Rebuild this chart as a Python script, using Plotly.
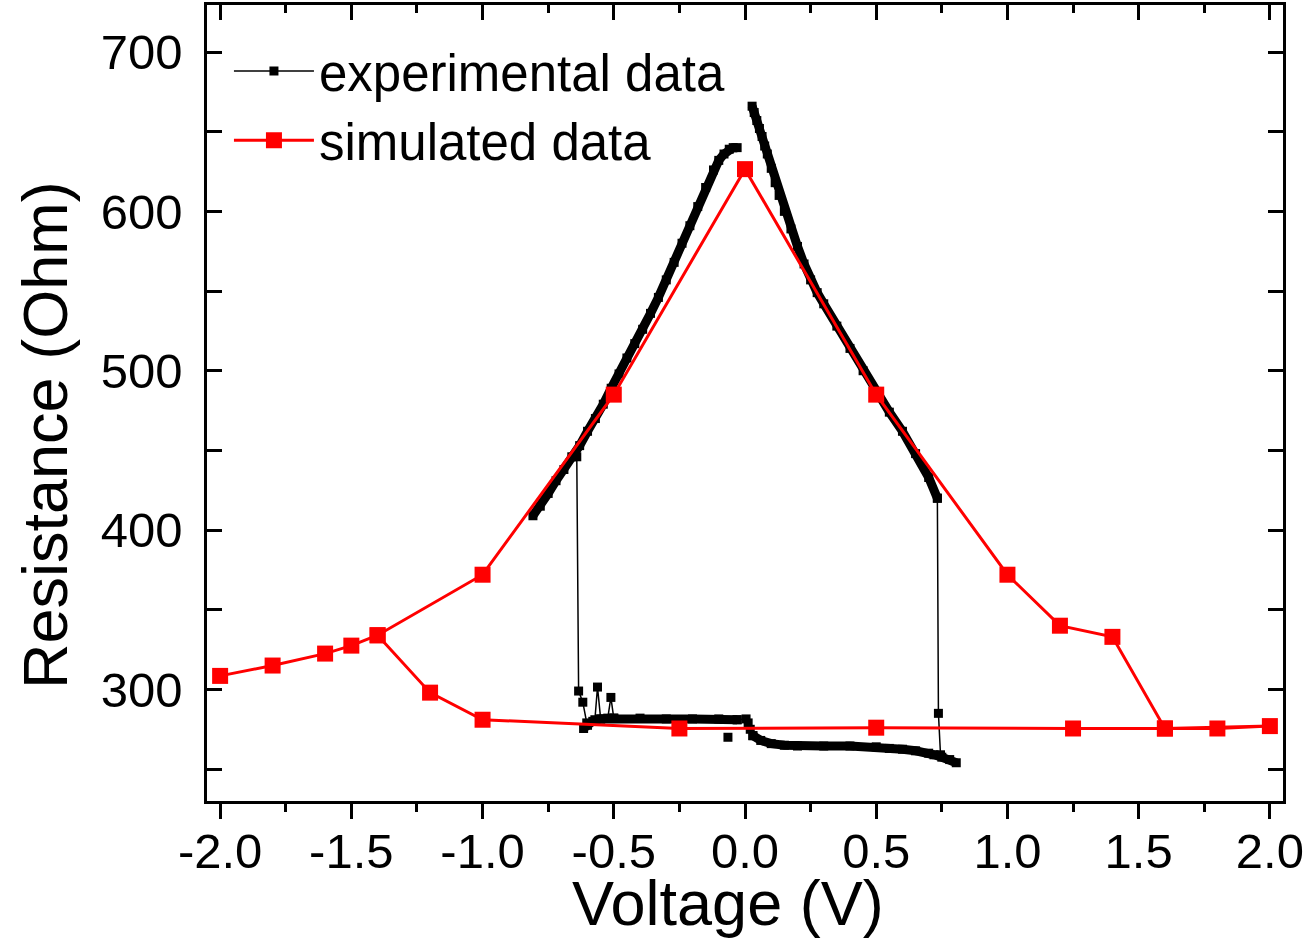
import plotly.graph_objects as go

# ---------------- data ----------------
# simulated data: upper sweep and lower return branch
sim_V = [-2.0, -1.8, -1.6, -1.5, -1.4, -1.0, -0.5, 0.0, 0.5, 1.0, 1.2, 1.4, 1.6, 1.8, 2.0]
sim_R = [308.5, 315, 322.5, 327.5, 334, 372, 485, 626.5, 485, 372, 340, 333, 275.5, 275.5, 277]
sim_low_V = [1.6, 1.25, 0.5, -0.25, -1.0, -1.2, -1.4]
sim_low_R = [275.5, 275.5, 276, 275.5, 281, 298, 334]

# experimental data, branch by branch (sweep order)
exp_rh_V = [0.027, 0.035, 0.045, 0.055, 0.065, 0.075, 0.085, 0.1, 0.115, 0.13, 0.15, 0.175,
            0.2, 0.225, 0.25, 0.275, 0.3, 0.35, 0.4, 0.45, 0.5, 0.55, 0.6, 0.65, 0.7, 0.733]
exp_rh_R = [666, 662, 657, 652, 647, 641, 636, 627, 618, 610, 600, 589,
            578, 567, 557, 549, 542, 528, 514, 500, 487, 474, 462, 448, 433, 420]

exp_jr_V = [0.733, 0.737, 0.745]
exp_jr_R = [420, 285, 259]

exp_lr_V = [0.805, 0.78, 0.75, 0.72, 0.7, 0.65, 0.6, 0.55, 0.5, 0.4, 0.3, 0.2, 0.15, 0.1, 0.06, 0.03]
exp_lr_R = [254, 256, 257.5, 259, 260, 261.5, 262.5, 263, 264, 264.5, 264.5, 264.5, 265, 266, 268, 271]

exp_z_V = [0.03, 0.02, 0.012, 0.004, -0.03]
exp_z_R = [271, 275, 279, 281.5, 281]

exp_out_V = [-0.065]
exp_out_R = [270]

exp_ll_V = [-0.03, -0.1, -0.2, -0.3, -0.4, -0.5, -0.55, -0.58, -0.6, -0.615]
exp_ll_R = [281, 281.5, 281.5, 281.5, 282, 282, 281.5, 280, 277.5, 275.5]

exp_n_V = [-0.5, -0.511, -0.523, -0.55, -0.562, -0.572, -0.603, -0.618, -0.634, -0.641]
exp_n_R = [282, 295, 282, 281.5, 301.5, 281, 279, 292, 299, 446]

exp_lh_V = [-0.808, -0.78, -0.75, -0.72, -0.69, -0.66, -0.63, -0.6, -0.57, -0.54, -0.51,
            -0.48, -0.45, -0.42, -0.39, -0.36, -0.33, -0.3, -0.27, -0.24, -0.21, -0.18,
            -0.15, -0.12, -0.1, -0.08, -0.06, -0.045, -0.03]
exp_lh_R = [409, 415, 423, 431, 438, 446, 453, 462, 470, 479, 489,
            498, 508, 517, 526, 536, 546, 557, 568, 580, 591, 603,
            615, 626, 632, 636, 639, 640, 640]

x_ticks = [-2.0, -1.5, -1.0, -0.5, 0.0, 0.5, 1.0, 1.5, 2.0]
y_ticks = [300, 400, 500, 600, 700]

FONT = "Liberation Sans, Arial, sans-serif"
BLACK = "#000000"
RED = "#ff0000"

fig = go.Figure()

# thick bands (dense measured points)
for vx, ry in [(exp_rh_V, exp_rh_R), (exp_lr_V, exp_lr_R), (exp_ll_V, exp_ll_R), (exp_lh_V, exp_lh_R)]:
    fig.add_trace(go.Scatter(x=vx, y=ry, mode="lines+markers",
                             line=dict(color=BLACK, width=9),
                             marker=dict(symbol="square", size=9, color=BLACK),
                             showlegend=False, legendgroup="exp", hoverinfo="skip"))

# thin connecting segments (jumps, noisy points)
fig.add_trace(go.Scatter(x=exp_jr_V, y=exp_jr_R, mode="lines+markers", name="experimental data",
                         line=dict(color=BLACK, width=1.5),
                         marker=dict(symbol="square", size=9, color=BLACK),
                         legendgroup="exp", legendrank=1, showlegend=True))
for vx, ry in [(exp_z_V, exp_z_R), (exp_n_V, exp_n_R)]:
    fig.add_trace(go.Scatter(x=vx, y=ry, mode="lines+markers",
                             line=dict(color=BLACK, width=1.5),
                             marker=dict(symbol="square", size=9, color=BLACK),
                             showlegend=False, legendgroup="exp"))
fig.add_trace(go.Scatter(x=exp_out_V, y=exp_out_R, mode="markers",
                         marker=dict(symbol="square", size=9, color=BLACK),
                         showlegend=False, legendgroup="exp"))

# simulated
fig.add_trace(go.Scatter(x=sim_V + sim_low_V, y=sim_R + sim_low_R, mode="lines+markers",
                         name="simulated data",
                         line=dict(color=RED, width=3),
                         marker=dict(symbol="square", size=16, color=RED),
                         legendrank=2))

# invisible trace to carry the top axis
fig.add_trace(go.Scatter(x=[x_ticks[0]], y=[y_ticks[0]], xaxis="x2", mode="markers",
                         marker=dict(opacity=0), showlegend=False, hoverinfo="skip"))

axis_common = dict(showgrid=False, zeroline=False, showline=True, linecolor=BLACK, linewidth=2.5,
                   tickcolor=BLACK, tickwidth=2.5)

fig.update_layout(
    width=1311, height=939, autosize=False,
    margin=dict(l=207, r=28, t=5, b=138),
    paper_bgcolor="white", plot_bgcolor="white",
    font=dict(family=FONT, color=BLACK, size=49),
    showlegend=True,
    legend=dict(x=0.0204, y=0.967, xanchor="left", yanchor="top", bgcolor="rgba(0,0,0,0)",
                font=dict(family=FONT, size=51, color=BLACK), itemwidth=80, tracegroupgap=0),
    xaxis=dict(range=[-2.05, 2.05], tickmode="array", tickvals=x_ticks,
               ticktext=["%.1f" % v for v in x_ticks],
               ticks="outside", ticklen=15, ticklabelstandoff=-10,
               minor=dict(ticks="outside", ticklen=8, dtick=0.25, tick0=0, tickcolor=BLACK, tickwidth=2.5),
               tickfont=dict(size=49, family=FONT, color=BLACK),
               **axis_common),
    xaxis2=dict(range=[-2.05, 2.05], overlaying="x", side="top", tickmode="array", tickvals=x_ticks,
                ticks="inside", ticklen=15, showticklabels=False,
                minor=dict(ticks="inside", ticklen=8, dtick=0.25, tick0=0, tickcolor=BLACK, tickwidth=2.5),
                **axis_common),
    yaxis=dict(range=[230, 729.5], tickmode="array", tickvals=y_ticks,
               ticks="inside", ticklen=15, mirror="ticks",
               minor=dict(ticks="inside", ticklen=15, dtick=50, tick0=0, tickcolor=BLACK, tickwidth=2.5),
               tickfont=dict(size=49, family=FONT, color=BLACK), ticklabelstandoff=12,
               **axis_common),
    annotations=[
        dict(text="Voltage (V)", xref="paper", yref="paper", x=(727.5 - 207) / 1076, y=-(903 - 801) / 796,
             xanchor="center", yanchor="middle", showarrow=False,
             font=dict(size=63, family=FONT, color=BLACK)),
        dict(text="Resistance (Ohm)", xref="paper", yref="paper", x=(45 - 207) / 1076, y=(801 - 435) / 796,
             xanchor="center", yanchor="middle", showarrow=False, textangle=-90,
             font=dict(size=63, family=FONT, color=BLACK)),
    ],
)

fig.write_html("out.html")
